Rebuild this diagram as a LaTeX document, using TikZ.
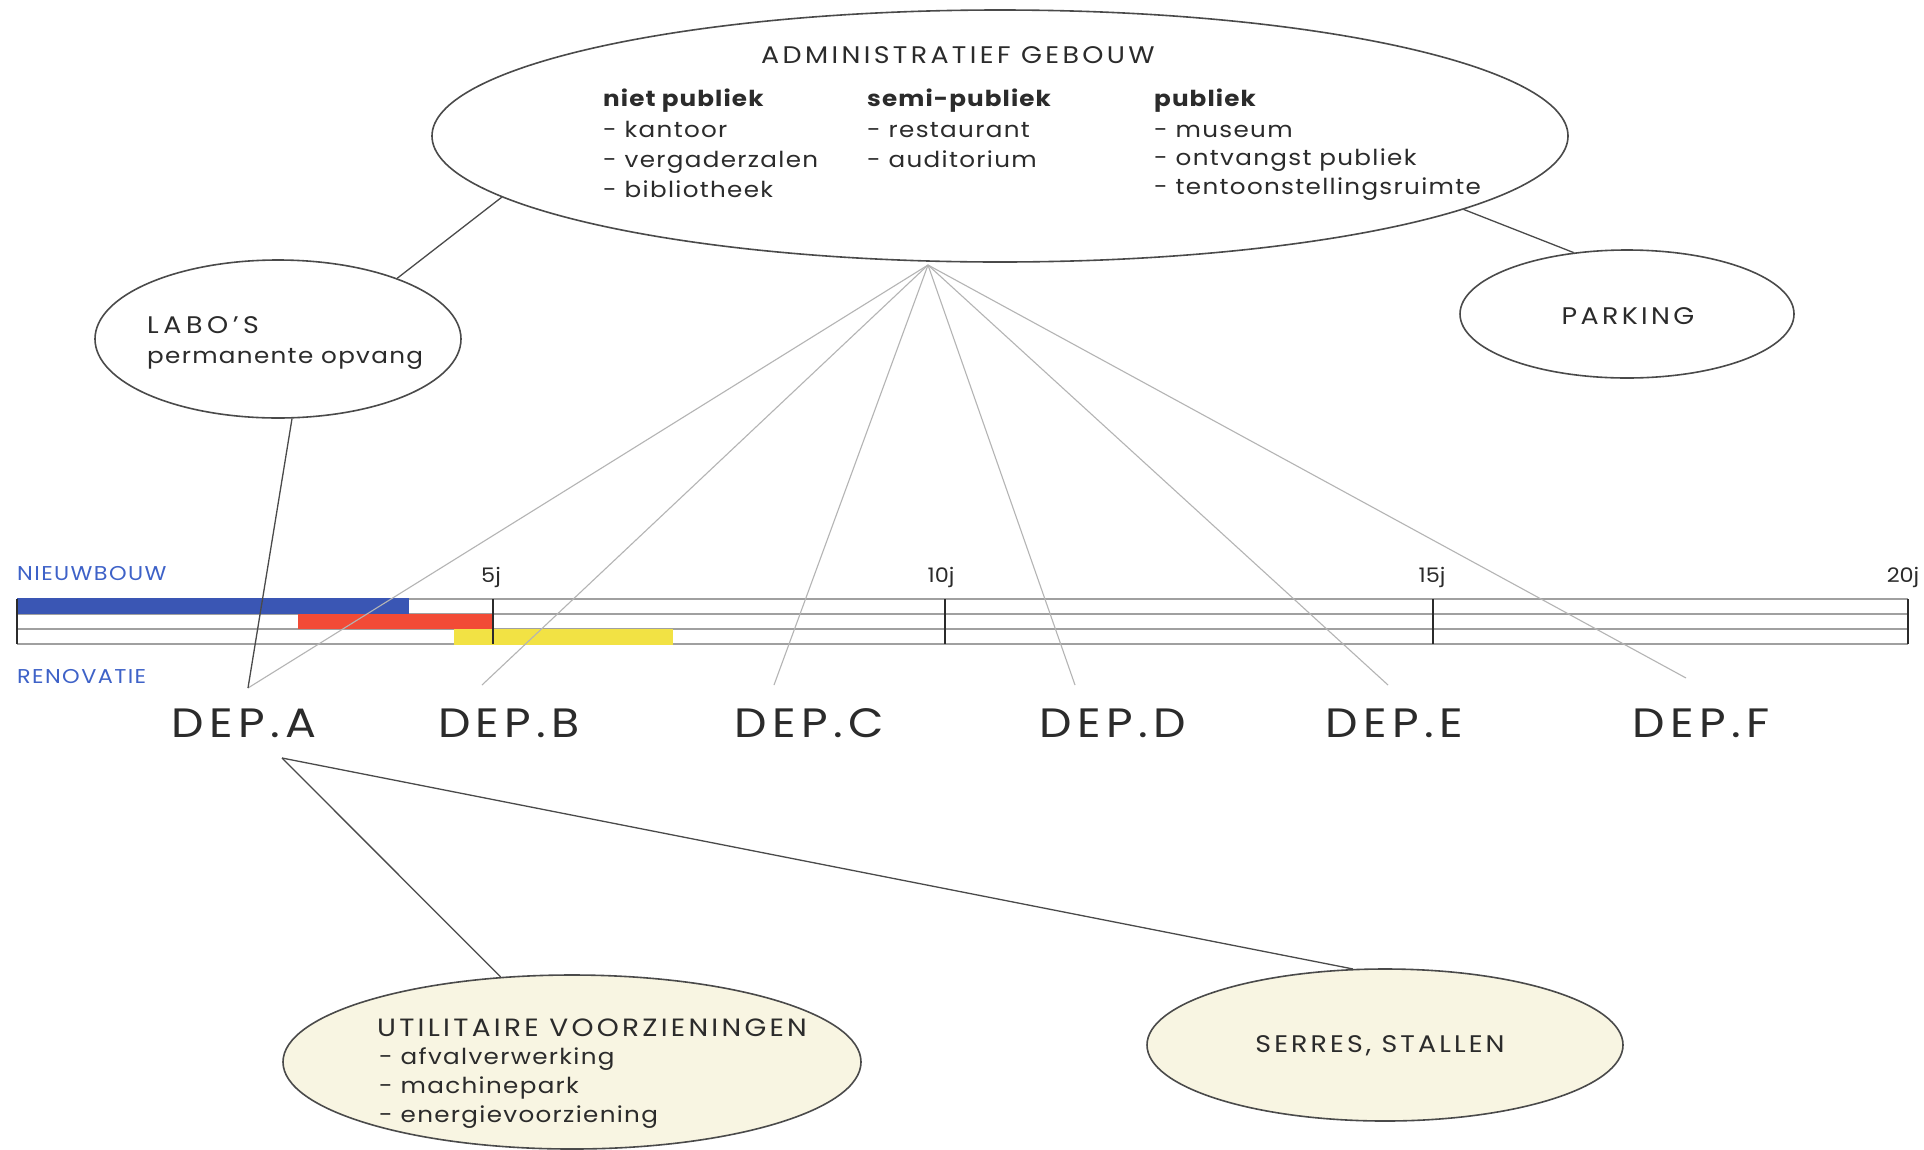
\documentclass[tikz,border=0pt]{standalone}
\usepackage{fontspec}
\setmainfont[FakeStretch=1.12]{Poppins}
\usetikzlibrary{shapes.geometric}
\definecolor{txt}{HTML}{2B2B2B}
\definecolor{edge}{HTML}{4A4A4A}
\definecolor{fan}{HTML}{B4B4B4}
\definecolor{cream}{HTML}{F8F5E2}
\definecolor{nbblue}{HTML}{3A56B4}
\definecolor{rnred}{HTML}{F24B36}
\definecolor{rnyellow}{HTML}{F2E244}
\definecolor{lblue}{HTML}{3E62C8}
\definecolor{tlgray}{HTML}{A0A0A0}
\tikzset{
  bubble/.style={ellipse, draw=edge, line width=1.6pt, inner sep=0pt},
  link/.style={draw=edge, line width=1.3pt},
  fanline/.style={draw=fan, line width=1.1pt},
  tlline/.style={draw=tlgray, line width=1.6pt},
  tick/.style={draw=txt, line width=1.4pt},
  lbl/.style={anchor=base west, inner sep=0pt, text=txt},
  deplbl/.style={anchor=base, inner sep=0pt, text=txt, font=\fontsize{41}{41}\selectfont\addfontfeatures{LetterSpace=13}},
  admtxt/.style={lbl, font=\fontsize{22}{22}\selectfont\addfontfeatures{LetterSpace=6}},
  admhead/.style={lbl, font=\fontsize{22}{22}\selectfont\bfseries\addfontfeatures{LetterSpace=5}},
  caps/.style={lbl, font=\fontsize{24}{24}\selectfont\addfontfeatures{LetterSpace=14}},
  tltxt/.style={lbl, text=lblue, font=\fontsize{20}{20}\selectfont\addfontfeatures{LetterSpace=7}},
  yrtxt/.style={lbl, anchor=base, font=\fontsize{20}{20}\selectfont},
}
\begin{document}
\begin{tikzpicture}[x=1pt,y=-1pt]
\useasboundingbox (0,0) rectangle (1924,1149);
\fill[white] (0,0) rectangle (1924,1149);

% ellipses
\node[bubble, minimum width=1136pt, minimum height=252pt] (admin) at (1000,136) {};
\node[bubble, minimum width=366pt, minimum height=158pt] (labo) at (278,339) {};
\node[bubble, minimum width=334pt, minimum height=128pt] (parking) at (1627,314) {};
\node[bubble, fill=cream, minimum width=578pt, minimum height=174pt] (util) at (572,1062) {};
\node[bubble, fill=cream, minimum width=476pt, minimum height=152pt] (serres) at (1385,1045) {};

% admin texts
\node[caps] (admtitle) at (761,63) {ADMINISTRATIEF GEBOUW};
\node[admhead] (h1) at (603,106) {niet publiek};
\node[admtxt] (a1) at (603,137) {- kantoor};
\node[admtxt] (a2) at (603,167) {- vergaderzalen};
\node[admtxt] (a3) at (603,197) {- bibliotheek};
\node[admhead] (h2) at (867,106) {semi-publiek};
\node[admtxt] (b1) at (867,137) {- restaurant};
\node[admtxt] (b2) at (867,167) {- auditorium};
\node[admhead] (h3) at (1154,106) {publiek};
\node[admtxt] (c1) at (1154,137) {- museum};
\node[admtxt] (c2) at (1154,165) {- ontvangst publiek};
\node[admtxt] (c3) at (1154,194) {- tentoonstellingsruimte};

% labo / parking
\node[caps, font=\fontsize{24}{24}\selectfont\addfontfeatures{LetterSpace=19}] (labot) at (147,333) {LABO'S};
\node[admtxt] (labos) at (147,363) {permanente opvang};
\node[caps, anchor=base] (parkt) at (1628,324) {PARKING};

% util / serres
\node[caps, font=\fontsize{25}{25}\selectfont\addfontfeatures{LetterSpace=13}] (utilt) at (377,1036) {UTILITAIRE VOORZIENINGEN};
\node[admtxt] (u1) at (379,1064) {- afvalverwerking};
\node[admtxt] (u2) at (379,1093) {- machinepark};
\node[admtxt] (u3) at (379,1122) {- energievoorziening};
\node[caps, anchor=base, font=\fontsize{24}{24}\selectfont\addfontfeatures{LetterSpace=13}] (serrest) at (1380,1052) {SERRES, STALLEN};

% timeline
\draw[tlline] (17,599) -- (1908,599);
\draw[tlline] (17,614) -- (1908,614);
\draw[tlline] (17,629) -- (1908,629);
\draw[tlline] (17,644) -- (1908,644);
\fill[nbblue] (17,598) rectangle (409,614);
\fill[rnred] (298,614) rectangle (493,629);
\fill[rnyellow] (454,629) rectangle (673,645);
\draw[tick] (17,599) -- (17,644);
\draw[tick] (493,599) -- (493,644);
\draw[tick] (945,599) -- (945,644);
\draw[tick] (1433,599) -- (1433,644);
\draw[tick] (1908,599) -- (1908,644);
\node[tltxt] (nieuw) at (17,580) {NIEUWBOUW};
\node[tltxt] (renov) at (17,683) {RENOVATIE};
\node[yrtxt] (y5) at (491,582) {5j};
\node[yrtxt] (y10) at (941,582) {10j};
\node[yrtxt] (y15) at (1432,582) {15j};
\node[yrtxt] (y20) at (1903,582) {20j};

% departments
\node[deplbl] (depA) at (244,737) {DEP.A};
\node[deplbl] (depB) at (509,737) {DEP.B};
\node[deplbl] (depC) at (809,737) {DEP.C};
\node[deplbl] (depD) at (1113,737) {DEP.D};
\node[deplbl] (depE) at (1394,737) {DEP.E};
\node[deplbl] (depF) at (1701,737) {DEP.F};

% connector ends
\coordinate (apex) at (928,265);
\coordinate (ta) at (248,688);
\coordinate (tb) at (482,685);
\coordinate (tc) at (774,685);
\coordinate (td) at (1075,685);
\coordinate (te) at (1388,685);
\coordinate (tf) at (1686,678);
\coordinate (ba) at (282,758);

% fan lines
\draw[fanline] (apex) -- (ta);
\draw[fanline] (apex) -- (tb);
\draw[fanline] (apex) -- (tc);
\draw[fanline] (apex) -- (td);
\draw[fanline] (apex) -- (te);
\draw[fanline] (apex) -- (tf);

% links
\draw[link] (admin.187) -- (labo.27);
\draw[link] (admin.351) -- (parking.131);
\draw[link] (labo.280) -- (ta);
\draw[link] (ba) -- (util.130);
\draw[link] (ba) -- (serres.113);
\end{tikzpicture}
\end{document}
